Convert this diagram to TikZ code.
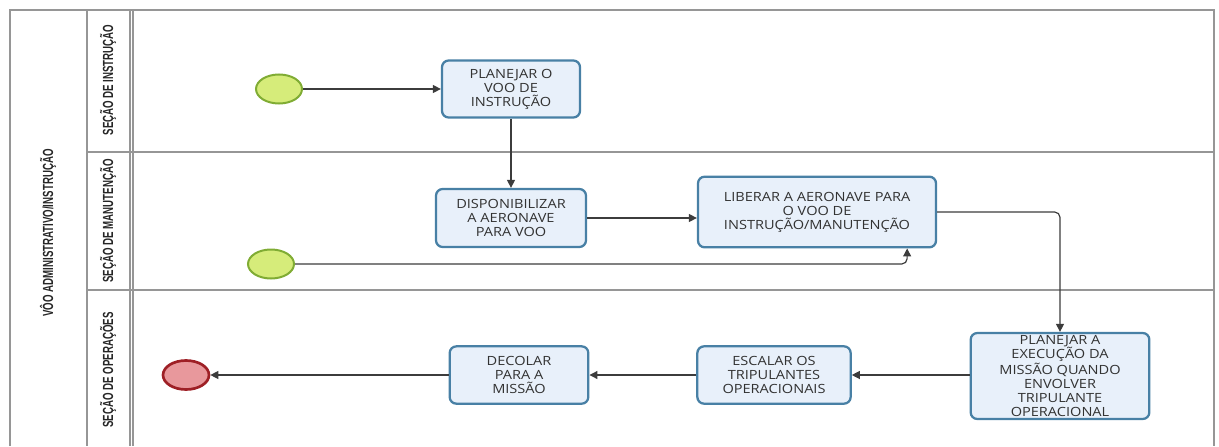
\documentclass[tikz,border=0pt]{standalone}
\usepackage{fontspec}
\setmainfont{Open Sans}
\newfontfamily\lanefont[FakeStretch=0.66]{Liberation Sans}
\newfontfamily\taskfont[FakeStretch=1.15]{Open Sans}
\usetikzlibrary{arrows.meta,shapes.geometric}
\definecolor{taskfill}{RGB}{232,240,250}
\definecolor{taskline}{RGB}{72,128,165}
\definecolor{tasktext}{RGB}{50,50,50}
\definecolor{startfill}{RGB}{214,236,122}
\definecolor{startline}{RGB}{128,172,52}
\definecolor{endfill}{RGB}{232,152,156}
\definecolor{endline}{RGB}{158,32,38}
\definecolor{laneline}{RGB}{150,150,150}
\definecolor{flowline}{RGB}{60,60,60}
\begin{document}
\begin{tikzpicture}[x=0.75pt,y=-0.75pt,
    task/.style={draw=taskline, line width=1.7pt, fill=taskfill, rounded corners=5pt,
      align=center, text=tasktext, inner sep=1pt,
      font=\taskfont\fontsize{9.5}{10.5}\selectfont},
    start/.style={ellipse, draw=startline, line width=1.5pt, fill=startfill,
      minimum width=34.5pt, minimum height=21.75pt, inner sep=0pt},
    finish/.style={ellipse, draw=endline, line width=2pt, fill=endfill,
      minimum width=34.5pt, minimum height=21.75pt, inner sep=0pt},
    lanelabel/.style={rotate=90, text=black!85, font=\lanefont\bfseries\fontsize{11}{12}\selectfont},
    flow/.style={draw=flowline, line width=0.9pt, -{Triangle[length=6pt,width=6pt]}}]
  \useasboundingbox (0,0) rectangle (1219,446);

  % Pool and lanes
  \draw[laneline, line width=1.3pt] (10,446) -- (10,10) -- (1214,10) -- (1214,446);
  \draw[laneline, line width=1.3pt] (87,10) -- (87,446);
  \draw[laneline, line width=1pt] (130,10) -- (130,446);
  \draw[laneline, line width=1pt] (133,10) -- (133,446);
  \draw[laneline, line width=1.3pt] (87,152) -- (1214,152);
  \draw[laneline, line width=1.3pt] (87,290) -- (1214,290);

  % Pool and lane labels
  \node[lanelabel] (pool) at (48,233) {VÔO ADMINISTRATIVO/INSTRUÇÃO};
  \node[lanelabel] (lane1) at (108,80) {SEÇÃO DE INSTRUÇÃO};
  \node[lanelabel] (lane2) at (108,221) {SEÇÃO DE MANUTENÇÃO};
  \node[lanelabel] (lane3) at (108,370) {SEÇÃO DE OPERAÇÕES};

  % Events
  \node[start] (s1) at (279,89) {};
  \node[start] (s2) at (271,264) {};
  \node[finish] (fim) at (186,375) {};

  % Tasks
  \node[task, minimum width=103.5pt, minimum height=42.75pt] (t1) at (511,89)
    {PLANEJAR O\\VOO DE\\INSTRUÇÃO};
  \node[task, minimum width=112.5pt, minimum height=43.5pt] (t2) at (511,218)
    {DISPONIBILIZAR\\A AERONAVE\\PARA VOO};
  \node[task, minimum width=178.5pt, minimum height=53pt] (t3) at (817,212)
    {LIBERAR A AERONAVE PARA\\O VOO DE\\INSTRUÇÃO/MANUTENÇÃO};
  \node[task, minimum width=134pt, minimum height=64.5pt] (t4) at (1060,376)
    {PLANEJAR A\\EXECUÇÃO DA\\MISSÃO QUANDO\\ENVOLVER\\TRIPULANTE\\OPERACIONAL};
  \node[task, minimum width=115pt, minimum height=43pt] (t5) at (774,375)
    {ESCALAR OS\\TRIPULANTES\\OPERACIONAIS};
  \node[task, minimum width=104pt, minimum height=43pt] (t6) at (519,375)
    {DECOLAR\\PARA A\\MISSÃO};

  % Sequence flows
  \draw[flow] (s1) -- (t1);
  \draw[flow] (t1) -- (t2);
  \draw[flow] (t2) -- (t2 -| t3.west);
  \draw[flow, rounded corners=4pt] (s2.east) -| ([xshift=-22.5pt]t3.south east);
  \draw[flow, rounded corners=4pt] (t3.east) -| (t4.north);
  \draw[flow] (t4.west |- t5) -- (t5);
  \draw[flow] (t5) -- (t6);
  \draw[flow] (t6) -- (fim);
\end{tikzpicture}
\end{document}
